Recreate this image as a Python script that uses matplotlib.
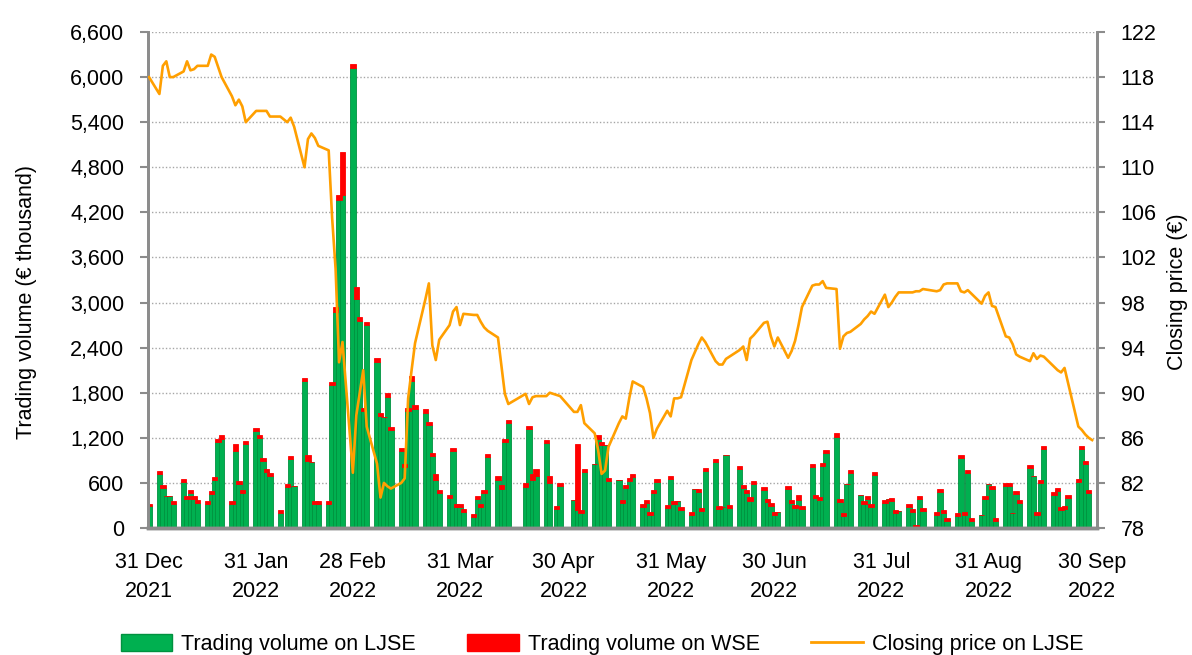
import numpy as np
import pandas as pd
import matplotlib as mpl
import matplotlib.pyplot as plt
import matplotlib.dates as mdates
from matplotlib.patches import Patch
from matplotlib.lines import Line2D

mpl.rcParams["font.family"] = ["Liberation Sans", "DejaVu Sans"]

# LJSE non-trading weekdays in the period
holidays = ["2022-02-08", "2022-04-15", "2022-04-18", "2022-04-27", "2022-05-02", "2022-08-15"]

# trading volume on LJSE (EUR thousand), one value per trading day
ljse_dec = [290]
ljse_jan = [724, 534, 420, 430, 313, 610, 390, 460, 390, 335, 322, 455, 645, 1140, 1187,
            313, 1028, 580, 460, 1122, 1285]
ljse_feb = [1197, 888, 742, 698, 194, 548, 919, 561, 1961, 892, 884, 322, 322, 322, 1904,
            2878, 4371, 4430, 6116]
ljse_mar = [3052, 2755, 1560, 2707, 2206, 1484, 1480, 1738, 1299, 1030, 818, 1560, 1960, 1590,
            1528, 1373, 964, 635, 471, 404, 1022, 275, 275]
ljse_apr = [219, 151, 382, 275, 471, 951, 633, 519, 1142, 1395, 540, 1315, 645, 691, 1129,
            599, 253, 560]
ljse_may = [369, 234, 195, 751, 858, 1185, 1107, 1102, 627, 635, 329, 529, 627, 684, 275,
            338, 173, 461, 618, 262, 653]
ljse_jun = [320, 360, 240, 173, 520, 480, 227, 764, 875, 253, 280, 969, 262, 787, 529, 471,
            353, 587, 502, 342, 293, 173]
ljse_jul = [213, 516, 329, 262, 375, 253, 809, 395, 373, 831, 995, 1208, 351, 160, 591, 738,
            435, 320, 382, 275, 707]
ljse_aug = [329, 391, 364, 195, 227, 275, 213, 5, 382, 231, 173, 484, 195, 93, 160, 929,
            173, 738, 93, 178, 382, 591]
ljse_sep = [516, 93, 560, 560, 200, 457, 337, 799, 697, 169, 595, 1057, 440, 493, 240, 249,
            404, 613, 1057, 852, 470, 0]

# trading volume on WSE (EUR thousand)
wse_dec = [30]
wse_jan = [40, 40, 0, 0, 40, 40, 40, 40, 40, 40, 40, 40, 40, 40, 50, 40, 90, 40, 40, 40, 40]
wse_feb = [40, 40, 40, 40, 40, 40, 40, 0, 40, 80, 0, 40, 40, 40, 40, 60, 60, 575, 60]
wse_mar = [160, 50, 40, 40, 60, 40, 0, 60, 40, 40, 40, 40, 60, 50, 50, 40, 40, 80, 40, 40,
           40, 40, 40]
wse_apr = [30, 40, 40, 40, 40, 40, 60, 50, 40, 40, 60, 40, 70, 100, 40, 90, 40, 40]
wse_may = [0, 890, 40, 40, 0, 50, 40, 0, 40, 0, 40, 40, 40, 40, 40, 40, 40, 50, 40, 40, 40]
wse_jun = [40, 0, 40, 40, 0, 40, 40, 40, 40, 40, 0, 0, 40, 40, 40, 40, 60, 40, 40, 40, 40, 40]
wse_jul = [0, 40, 40, 40, 60, 40, 40, 40, 40, 40, 40, 50, 40, 40, 0, 40, 0, 40, 40, 40, 40]
wse_aug = [40, 0, 40, 40, 0, 40, 40, 35, 40, 40, 40, 40, 40, 40, 40, 40, 40, 40, 40, 0, 40, 0]
wse_sep = [40, 40, 40, 40, 0, 40, 40, 40, 0, 40, 40, 40, 40, 40, 40, 40, 40, 40, 40, 40, 40, 0]

# closing price on LJSE (EUR)
price_dec = [118.0]
price_jan = [116.5, 119.0, 119.4, 118.0, 118.0, 118.5, 119.4, 118.6, 118.7, 119.0, 119.0,
             120.0, 119.8, 118.9, 118.0, 116.3, 115.5, 116.0, 115.4, 114.0, 115.0]
price_feb = [115.0, 115.0, 115.0, 114.5, 114.5, 114.0, 114.4, 113.6, 110.0, 112.5, 113.0,
             112.6, 111.9, 111.5, 105.5, 101.0, 92.7, 94.5, 82.9]
price_mar = [88.0, 90.0, 92.0, 87.0, 83.7, 80.7, 82.0, 81.7, 81.5, 82.0, 82.4, 89.5, 92.0,
             94.4, 98.3, 99.7, 94.2, 92.9, 94.7, 96.0, 97.2, 97.6, 96.0]
price_apr = [97.0, 96.9, 96.9, 96.3, 95.8, 95.5, 94.9, 92.4, 89.9, 89.0, 89.9, 89.0, 89.6,
             89.7, 89.7, 90.0, 89.8, 89.7]
price_may = [88.3, 88.3, 88.9, 87.3, 86.4, 84.9, 82.8, 83.1, 85.2, 87.3, 87.9, 87.7, 89.5,
             91.0, 90.5, 89.5, 88.2, 86.0, 86.8, 88.4, 87.9]
price_jun = [89.5, 89.5, 89.6, 92.9, 93.6, 94.3, 94.9, 94.5, 92.8, 92.5, 92.5, 93.0, 93.2,
             93.8, 94.1, 92.9, 94.8, 95.1, 96.2, 96.3, 95.0, 94.1]
price_jul = [94.9, 93.1, 93.7, 94.6, 96.0, 97.6, 99.5, 99.6, 99.6, 99.9, 99.3, 99.2, 93.9,
             95.0, 95.3, 95.4, 96.1, 96.5, 96.8, 97.2, 97.0]
price_aug = [98.7, 97.6, 98.0, 98.5, 98.9, 98.9, 98.9, 99.0, 99.0, 99.2, 99.0, 99.1, 99.6,
             99.7, 99.7, 99.0, 98.9, 99.1, 98.8, 97.9, 98.6, 98.9]
price_sep = [97.7, 97.6, 95.0, 94.9, 94.3, 93.4, 93.2, 92.8, 93.5, 93.0, 93.3, 93.2, 92.3,
             92.0, 91.8, 92.2, 90.9, 87.0, 86.7, 86.3, 86.0, 85.8]

tick_dates = ["2021-12-31", "2022-01-31", "2022-02-28", "2022-03-31", "2022-04-30",
              "2022-05-31", "2022-06-30", "2022-07-31", "2022-08-31", "2022-09-30"]

ljse = np.array(ljse_dec + ljse_jan + ljse_feb + ljse_mar + ljse_apr + ljse_may + ljse_jun
                + ljse_jul + ljse_aug + ljse_sep, dtype=float)
wse = np.array(wse_dec + wse_jan + wse_feb + wse_mar + wse_apr + wse_may + wse_jun
               + wse_jul + wse_aug + wse_sep, dtype=float)
price = np.array(price_dec + price_jan + price_feb + price_mar + price_apr + price_may
                 + price_jun + price_jul + price_aug + price_sep)

dates = pd.bdate_range("2021-12-31", "2022-09-30").drop(pd.to_datetime(holidays))
x = mdates.date2num(dates.to_pydatetime())
assert len(x) == len(ljse) == len(wse) == len(price)

green = "#00B050"
red = "#FF0000"
orange = "#FF9F00"
grey = "#8C8C8C"

fig = plt.figure(figsize=(11.92, 6.55), dpi=100)
ax = fig.add_axes([148 / 1192, 1 - 528 / 655, 949 / 1192, 496 / 655])

bw = 1.55
ax.bar(x, ljse, width=bw, color=green, edgecolor="#00913F", linewidth=0.6, zorder=2)
ax.bar(x, wse, width=bw, bottom=ljse, color=red, edgecolor=red, linewidth=0.6, zorder=2)

ax.set_ylim(0, 6600)
ax.set_yticks(np.arange(0, 6601, 600))
ax.set_yticklabels([f"{v:,}" for v in range(0, 6601, 600)])
ax.yaxis.grid(True, linestyle=(0, (1, 1.5)), color="#A6A6A6", linewidth=1.0, zorder=0)
ax.set_axisbelow(True)

x0 = mdates.date2num(pd.Timestamp("2021-12-31"))
ax.set_xlim(x0 - 0.3, x0 + 274.4)
tk = pd.to_datetime(tick_dates)
ax.set_xticks(mdates.date2num(tk.to_pydatetime()))
ax.set_xticklabels([f"{d.day} {d:%b}\n{d.year}" for d in tk], linespacing=1.5)

ax2 = ax.twinx()
ax2.plot(x, price, color=orange, linewidth=1.9, zorder=3)
ax2.set_ylim(78, 122)
ax2.set_yticks(np.arange(78, 123, 4))

for a in (ax, ax2):
    a.spines["top"].set_visible(False)
    a.spines["left"].set_color(grey)
    a.spines["right"].set_color(grey)
    a.spines["bottom"].set_color(grey)
    a.spines["left"].set_linewidth(2)
    a.spines["right"].set_linewidth(2)
    a.spines["bottom"].set_linewidth(2.5)
    a.tick_params(axis="y", direction="out", length=6, width=1.5, color=grey,
                  labelsize=15.5, pad=11)
ax.tick_params(axis="x", length=0, labelsize=15.5, pad=17)

ax.set_ylabel("Trading volume (€ thousand)", fontsize=15.5)
ax.yaxis.set_label_coords(-0.117, 0.455)
ax2.set_ylabel("Closing price (€)", fontsize=15.5)
ax2.yaxis.set_label_coords(1.0738, 0.476)

handles = [
    Patch(facecolor=green, edgecolor="#00913F", label="Trading volume on LJSE"),
    Patch(facecolor=red, edgecolor=red, label="Trading volume on WSE"),
    Line2D([0], [0], color=orange, linewidth=2, label="Closing price on LJSE"),
]
fig.legend(handles=handles, loc="center", bbox_to_anchor=(0.505, 0.016), ncol=3,
           frameon=False, fontsize=15.5, handlelength=2.4, handleheight=0.85,
           handletextpad=0.4, columnspacing=2.4)

fig.savefig("out.png", dpi=100)
